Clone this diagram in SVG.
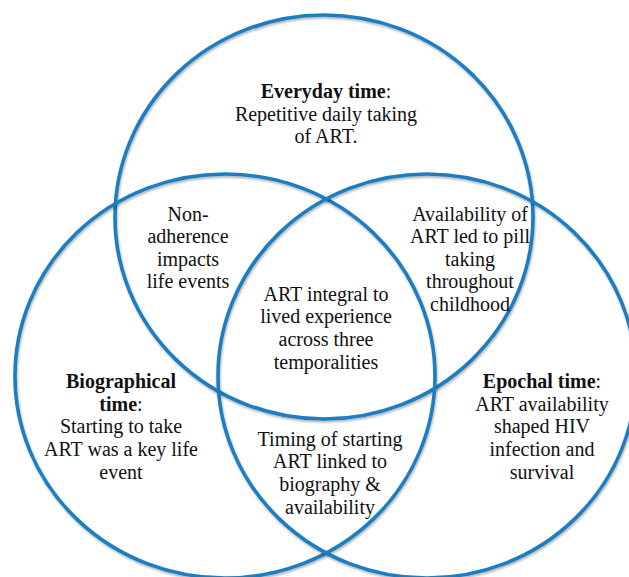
<svg xmlns="http://www.w3.org/2000/svg" width="629" height="577" viewBox="0 0 629 577">
  <defs>
    <filter id="sh" x="-10%" y="-10%" width="120%" height="120%">
      <feDropShadow dx="0.8" dy="1.8" stdDeviation="1" flood-color="#000" flood-opacity="0.3"/>
    </filter>
  </defs>
  <style>
    .ring { fill: none; stroke: #1f7dc1; stroke-width: 3.6; filter: url(#sh); }
    text { font-family: "Liberation Serif", "DejaVu Serif", serif; font-size: 20px; fill: #111; text-anchor: middle; }
    .b { font-weight: bold; }
  </style>
  <rect width="629" height="577" fill="#fff"/>

  <g id="everyday">
    <ellipse class="ring" cx="324" cy="217" rx="209" ry="202"/>
    <text x="326" y="98"><tspan class="b">Everyday time</tspan>:</text>
    <text x="326" y="121">Repetitive daily taking</text>
    <text x="326" y="143">of ART.</text>
  </g>

  <g id="biographical">
    <ellipse class="ring" cx="225" cy="376" rx="210" ry="202"/>
    <text x="121" y="388" class="b">Biographical</text>
    <text x="121" y="411"><tspan class="b">time</tspan>:</text>
    <text x="121" y="433">Starting to take</text>
    <text x="121" y="456">ART was a key life</text>
    <text x="121" y="479">event</text>
  </g>

  <g id="epochal">
    <ellipse class="ring" cx="427" cy="376" rx="209" ry="202"/>
    <text x="542" y="388"><tspan class="b">Epochal time</tspan>:</text>
    <text x="542" y="411">ART availability</text>
    <text x="542" y="433">shaped HIV</text>
    <text x="542" y="456">infection and</text>
    <text x="542" y="479">survival</text>
  </g>

  <g id="everyday-biographical">
    <text x="188" y="221">Non-</text>
    <text x="188" y="243">adherence</text>
    <text x="188" y="266">impacts</text>
    <text x="188" y="288">life events</text>
  </g>

  <g id="everyday-epochal">
    <text x="470" y="221">Availability of</text>
    <text x="470" y="243">ART led to pill</text>
    <text x="470" y="266">taking</text>
    <text x="470" y="288">throughout</text>
    <text x="470" y="311">childhood</text>
  </g>

  <g id="biographical-epochal">
    <text x="330" y="446">Timing of starting</text>
    <text x="330" y="468">ART linked to</text>
    <text x="330" y="491">biography &amp;</text>
    <text x="330" y="514">availability</text>
  </g>

  <g id="all-three">
    <text x="326" y="301">ART integral to</text>
    <text x="326" y="323">lived experience</text>
    <text x="326" y="346">across three</text>
    <text x="326" y="369">temporalities</text>
  </g>
</svg>
